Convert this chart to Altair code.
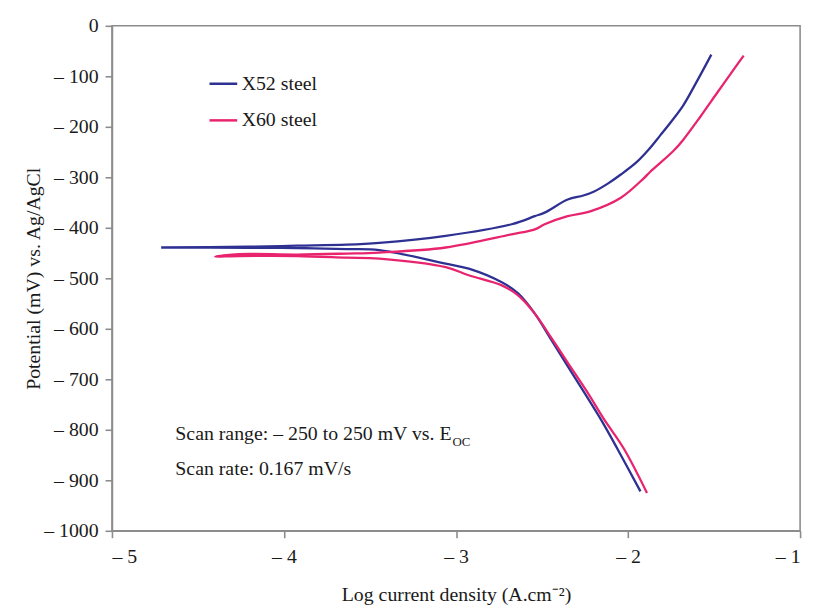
import altair as alt
import pandas as pd

series_names = ["X52 steel", "X60 steel"]
series_colors = ["#2e3192", "#e8246e"]

# X52: cathodic branch (bottom) -> corrosion tip -> anodic branch (top)
x52_log_i = [-1.928, -2.063, -2.159, -2.255, -2.351, -2.446, -2.542, -2.639, -2.734,
             -2.926, -3.060, -3.446, -3.636, -3.924, -4.211, -4.714,
             -4.211, -3.924, -3.636, -3.446, -3.060, -2.677, -2.542, -2.485, -2.351,
             -2.260, -2.197, -2.120, -2.040, -1.947, -1.880, -1.813, -1.745, -1.680,
             -1.600, -1.516]
x52_potential = [-922, -837, -779, -726, -674, -622, -570, -530, -508,
                 -481, -471, -444, -442, -440, -439.5, -439,
                 -437.5, -435.5, -433.5, -430, -416, -393, -377, -370, -344,
                 -336, -328, -313, -294, -269, -245, -217, -188, -158,
                 -110, -57]

# X60
x60_log_i = [-1.890, -2.025, -2.140, -2.236, -2.351, -2.446, -2.542, -2.639, -2.734,
             -2.926, -3.060, -3.446, -3.636, -3.924, -4.260, -4.400,
             -4.260, -3.924, -3.636, -3.446, -3.060, -2.677, -2.542, -2.485, -2.351,
             -2.216, -2.044, -1.909, -1.871, -1.737, -1.680, -1.580, -1.487, -1.410,
             -1.328]
x60_potential = [-925, -837, -779, -726, -667, -618, -570, -534, -514,
                 -494, -478, -461, -459, -456, -456, -457,
                 -452, -453, -451, -449, -439, -413, -403, -393, -377,
                 -367, -341, -302, -289, -248, -226, -180, -135, -98,
                 -59]

x_ticks = [-5, -4, -3, -2, -1]
y_ticks = [-1000, -900, -800, -700, -600, -500, -400, -300, -200, -100, 0]

note_lines = ["Scan range: \u2013 250 to 250 mV vs. E", "Scan rate: 0.167 mV/s"]
note_sub = "OC"

rows = []
for name, xs, ys in [(series_names[0], x52_log_i, x52_potential),
                     (series_names[1], x60_log_i, x60_potential)]:
    for k, (xv, yv) in enumerate(zip(xs, ys)):
        rows.append({"steel": name, "log_i": xv, "E": yv, "seq": k})
df = pd.DataFrame(rows)

FONT = "Liberation Serif"

lines = alt.Chart(df).mark_line(strokeWidth=2.3, interpolate="catmull-rom").encode(
    x=alt.X("log_i:Q",
            scale=alt.Scale(domain=[-5, -1], nice=False, zero=False),
            axis=alt.Axis(values=x_ticks, title="Log current density (A.cm\u207b\u00b2)",
                          labelExpr="'\u2013 ' + abs(datum.value)", labelPadding=9,
                          titleBaseline="middle", titleY=64)),
    y=alt.Y("E:Q",
            scale=alt.Scale(domain=[-1000, 0], nice=False, zero=False),
            axis=alt.Axis(values=y_ticks, title="Potential (mV) vs. Ag/AgCl",
                          labelExpr="datum.value == 0 ? '0' : '\u2013 ' + abs(datum.value)",
                          labelPadding=7, titleBaseline="middle", titleX=-79)),
    color=alt.Color("steel:N",
                    scale=alt.Scale(domain=series_names, range=series_colors),
                    legend=alt.Legend(title=None, orient="none", legendX=97, legendY=43,
                                      symbolType="stroke", symbolSize=784,
                                      symbolStrokeWidth=2.5, labelFont=FONT,
                                      labelFontSize=20, labelColor="#1a1a1a", rowPadding=11,
                                      padding=0, labelOffset=3)),
    order="seq:Q",
)

note1 = alt.Chart(pd.DataFrame({"t": [note_lines[0]]})).mark_text(
    align="left", baseline="middle", font=FONT, fontSize=20, color="#1a1a1a"
).encode(x=alt.value(64), y=alt.value(412), text="t:N")
note2 = alt.Chart(pd.DataFrame({"t": [note_lines[1]]})).mark_text(
    align="left", baseline="middle", font=FONT, fontSize=20, color="#1a1a1a"
).encode(x=alt.value(64), y=alt.value(448), text="t:N")
note3 = alt.Chart(pd.DataFrame({"t": [note_sub]})).mark_text(
    align="left", baseline="middle", font=FONT, fontSize=13, color="#1a1a1a"
).encode(x=alt.value(344), y=alt.value(420), text="t:N")

chart = alt.layer(lines, note1, note2, note3).properties(
    width=695, height=510,
    autosize=alt.AutoSizeParams(type="none"),
    padding={"left": 105, "top": 15, "right": 10, "bottom": 76},
).configure_view(
    stroke="#8c8c8c", strokeWidth=1.6
).configure_axis(
    domainColor="#8c8c8c", domainWidth=1.6, tickColor="#8c8c8c", tickWidth=1.6,
    tickSize=7, grid=False, labelFont=FONT, labelFontSize=20,
    labelColor="#1a1a1a", titleFont=FONT, titleFontSize=20,
    titleFontWeight="normal", titleColor="#1a1a1a"
)

chart.save("out.html", embed_options={"renderer": "svg", "actions": False})
